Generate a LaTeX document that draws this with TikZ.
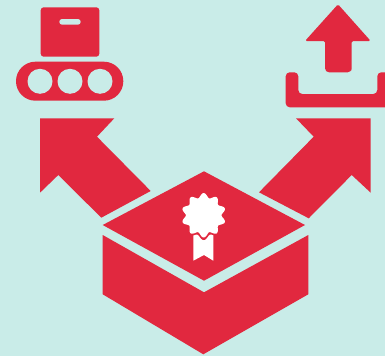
\documentclass[tikz,border=0pt]{standalone}
\definecolor{bgc}{HTML}{C9ECE8}
\definecolor{redc}{HTML}{E1283F}
\begin{document}
\begin{tikzpicture}[x=1pt,y=-1pt,
  shape fill/.style={fill=redc},
  cut fill/.style={fill=bgc}]
\fill[bgc] (0,0) rectangle (385,356);
\useasboundingbox (0,0) rectangle (385,356);
\clip (0,0) rectangle (385,356);
% left arrow
\fill[shape fill] (40,118.3) -- (114.3,118.3) -- (97,136.7) -- (150.7,191) -- (101.3,217.7) -- (58.3,175) -- (40,192.7) -- cycle;
% right arrow
\fill[shape fill] (296,118.3) -- (370.7,118.3) -- (370.7,192.7) -- (351.7,175) -- (308.7,218.3) -- (259,192.3) -- (313.7,136.7) -- cycle;
% box lid and body
\fill[shape fill] (204,171.3) -- (305,225) -- (204,280.7) -- (102.7,225) -- cycle;
\fill[shape fill] (102.7,235) -- (204,292.3) -- (308.3,235) -- (308.3,294.3) -- (203.3,354.3) -- (102.7,294.3) -- cycle;
% ribbon
\fill[white] (193.3,232) -- (213.3,232) -- (213.3,260.7) -- (204,255) -- (193.3,260.7) -- cycle;
% rosette
\fill[shape fill] plot[domain=0:360,samples=181,smooth cycle] ({203.7+(22.5+2.2*cos(10*(\x-90)))*cos(\x)},{215.3-(22.5+2.2*cos(10*(\x-90)))*sin(\x)});
\fill[white] plot[domain=0:360,samples=181,smooth cycle] ({203.7+(20+2.2*cos(10*(\x-90)))*cos(\x)},{215.3-(20+2.2*cos(10*(\x-90)))*sin(\x)});
% conveyor
\fill[shape fill,rounded corners=3pt] (40.7,7.3) rectangle (99.3,56.7);
\fill[cut fill,rounded corners=2.8pt] (59.3,19) rectangle (80.7,24.7);
\fill[shape fill,rounded corners=19.4pt] (16,61.7) rectangle (123.3,100.7);
\foreach \cx in {40,70,100}
  \fill[cut fill] (\cx,81.3) circle[radius=12.5pt];
% upload arrow
\fill[shape fill,rounded corners=1.5pt] (338,4.3) -- (370.7,41) -- (351.7,41) -- (351.7,72.3) [rounded corners=4pt] -- (351.7,72.3) -- (325,72.3) [rounded corners=1.5pt] -- (325,41) -- (305,41) -- cycle;
% tray
\fill[shape fill,rounded corners=4pt] (285.7,72.3) -- (298.3,72.3) -- (298.3,94) -- (377.3,94) -- (377.3,72.3) -- (392,72.3) -- (392,107.3) -- (285.7,107.3) -- cycle;
\end{tikzpicture}
\end{document}
